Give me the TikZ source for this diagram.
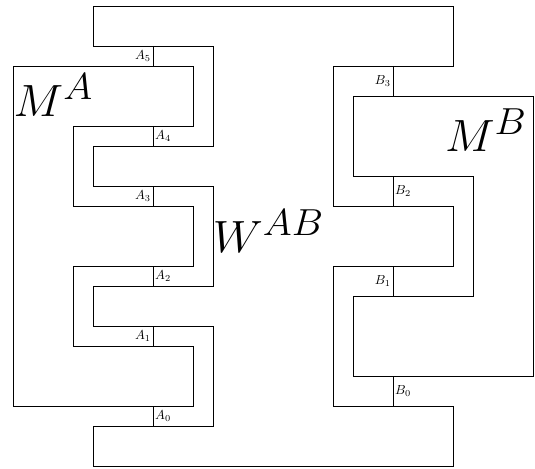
\documentclass[tikz,border=0pt]{standalone}
\usepackage{amsmath}
\usepackage{tikz}
\usetikzlibrary{positioning}

\begin{document}
\begin{tikzpicture}[x=0.3cm,y=0.3cm]
	\useasboundingbox (-1.3,-0.2) rectangle (52.2,46.6);
	\tikzset{comb/.style={thick}, bigname/.style={font=\Huge,xscale=1.62,yscale=1.55}, wirename/.style={scale=1.12,inner sep=1.5pt}}
	% the process W^{AB}
	\draw[comb] (8,46) -- (8,42) -- (20,42) -- (20,32) -- (8,32) -- (8,28) -- (20,28) -- (20,18) -- (8,18) -- (8,14) -- (20,14) -- (20,4) -- (8,4) -- (8,0) -- (44,0) -- (44,6) -- (32,6) -- (32,20) -- (44,20) -- (44,26) -- (32,26) -- (32,40) -- (44,40) -- (44,46) -- cycle;
	% M^A
	\draw[comb] (0,40) -- (18,40) -- (18,34) -- (6,34) -- (6,26) -- (18,26) -- (18,20) -- (6,20) -- (6,12) -- (18,12) -- (18,6) -- (0,6) -- cycle;
	% M^B
	\draw[comb] (34,37) -- (52,37) -- (52,9) -- (34,9) -- (34,17) -- (46,17) -- (46,29) -- (34,29) -- cycle;
	\foreach \i/\t/\b/\s in {5/42/40/left,4/34/32/right,3/28/26/left,2/20/18/right,1/14/12/left,0/6/4/right}
	{ \coordinate (at\i) at (14,\t);
		\coordinate (ab\i) at (14,\b);
		\draw (at\i) -- (ab\i) node[midway,\s,wirename] (la\i) {$A_\i$};
	}
	\foreach \i/\t/\b/\s in {3/40/37/left,2/29/26/right,1/20/17/left,0/9/6/right}
	{ \coordinate (bt\i) at (38,\t);
		\coordinate (bb\i) at (38,\b);
		\draw (bt\i) -- (bb\i) node[midway,\s,wirename] (lb\i) {$B_\i$};
	}
	\node[bigname] (ma) at (4.05,37.1) {$M^A$};
	\node[bigname] (wab) at (25.55,23.5) {$W^{AB}$};
	\node[bigname] (mb) at (47.3,33.6) {$M^B$};
\end{tikzpicture}
\end{document}
